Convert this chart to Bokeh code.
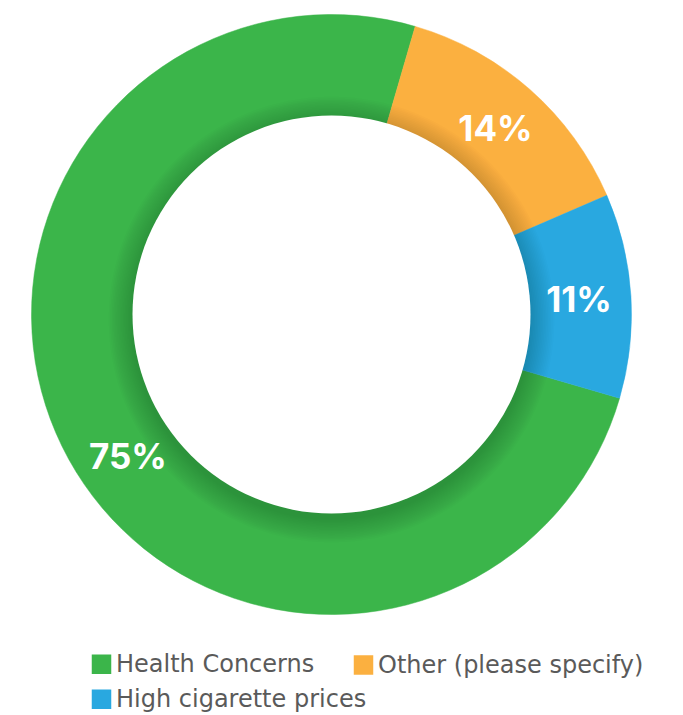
import math
from bokeh.plotting import figure
from bokeh.models import Range1d, ColumnDataSource
from bokeh.core.properties import value
from bokeh.embed import file_html
from bokeh.resources import INLINE

# ---- data ----
categories = ["Health Concerns", "Other (please specify)", "High cigarette prices"]
percents = [75, 14, 11]
pct_labels = ["75%", "14%", "11%"]
colors = ["#3BB54A", "#FBB040", "#29A8E0"]

# ---- layout (pixels, screen coords from top-left) ----
W, H = 683, 715
CX, CY = 331, 314
R_OUT, R_IN = 300, 199
START_DEG = 106.2          # clockwise from 12 o'clock where first slice begins
LABEL_R = 248
label_angle_shift = [-6.0, 0.0, 0.0]

def sy(y):
    return H - y

p = figure(width=W, height=H, output_backend="svg", toolbar_location=None,
           x_range=Range1d(0, W), y_range=Range1d(0, H), min_border=0,
           background_fill_color="white", border_fill_color="white")
p.axis.visible = False
p.grid.visible = False
p.outline_line_color = None

total = sum(percents)
starts, ends, mids = [], [], []
acc = START_DEG
for v in percents:
    a0 = acc
    a1 = acc + 360.0 * v / total
    starts.append(math.radians(90 - a0))
    ends.append(math.radians(90 - a1))
    mids.append((a0 + a1) / 2)
    acc = a1

src = ColumnDataSource(dict(x=[CX] * 3, y=[sy(CY)] * 3, start=starts, end=ends,
                            color=colors))
p.annular_wedge(x="x", y="y", inner_radius=R_IN - 20, outer_radius=R_OUT,
                start_angle="start", end_angle="end", direction="clock",
                fill_color="color", line_color="color", line_width=0.5, source=src)

# soft inner shadow cast by the hole
for k in range(1, 16):
    p.circle(x=[CX], y=[sy(CY + 5)], radius=R_IN + 1.6 * k,
             fill_color="black", fill_alpha=0.012, line_color=None)
p.circle(x=[CX], y=[sy(CY)], radius=R_IN, fill_color="white", line_color=None)

# percentage labels
lx, ly = [], []
for m, s in zip(mids, label_angle_shift):
    t = math.radians(m + s)
    lx.append(CX + LABEL_R * math.sin(t))
    ly.append(sy(CY - LABEL_R * math.cos(t)))
p.text(x=lx, y=ly, text=pct_labels, text_color="white",
       text_font=value("Inter"), text_font_style="bold", text_font_size="35px",
       text_align="center", text_baseline="middle")

# legend
leg_sq_x = [101, 363, 101]
leg_sq_y = [663.7, 664.5, 698.8]
p.scatter(x=leg_sq_x, y=[sy(v) for v in leg_sq_y], marker="square", size=19.5,
          fill_color=colors, line_color=None)
p.text(x=[v + 14.5 for v in leg_sq_x], y=[sy(v) for v in leg_sq_y],
       text=categories, text_color="#5a5a5a", text_font=value("DejaVu Sans"),
       text_font_size="24px", text_align="left", text_baseline="middle")

open("out.html", "w").write(file_html(p, INLINE))
